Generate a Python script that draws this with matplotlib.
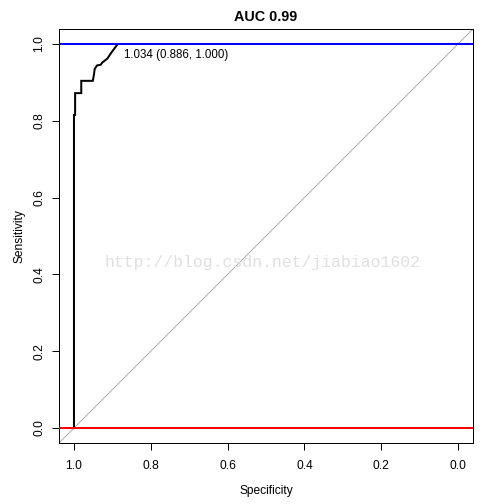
import matplotlib
matplotlib.use("Agg")
import matplotlib.pyplot as plt

# ROC curve data (specificity, sensitivity)
specificity = [1.0, 1.0, 0.997, 0.997, 0.981, 0.981, 0.951, 0.948, 0.946, 0.940,
               0.930, 0.927, 0.918, 0.913, 0.903, 0.886, 0.0]
sensitivity = [0.0, 0.815, 0.815, 0.872, 0.872, 0.904, 0.904, 0.920, 0.935, 0.944,
               0.946, 0.951, 0.958, 0.962, 0.977, 1.0, 1.0]

title = "AUC 0.99"
thres_label = "1.034 (0.886, 1.000)"
thres_point = (0.886, 1.0)
tick_values = [1.0, 0.8, 0.6, 0.4, 0.2, 0.0]
tick_labels = ["1.0", "0.8", "0.6", "0.4", "0.2", "0.0"]
watermark = "http://blog.csdn.net/jiabiao1602"

plt.rcParams['font.family'] = ['Liberation Sans', 'DejaVu Sans']

fig = plt.figure(figsize=(7, 7), dpi=72)
ax = fig.add_axes([58.6 / 504, 1 - 443.4 / 504, 414.8 / 504, 414.8 / 504])

ax.set_xlim(1.04, -0.04)
ax.set_ylim(-0.04, 1.04)

# diagonal
ax.plot([1.04, -0.04], [-0.04, 1.04], color="#A0A0A0", lw=0.8, zorder=1)
# ROC curve
ax.plot(specificity, sensitivity, color="black", lw=2, zorder=3, solid_joinstyle="miter")
# reference lines
ax.axhline(1.0, color="#0000FF", lw=2, zorder=4)
ax.axhline(0.0, color="#FF0000", lw=2, zorder=4)

ax.annotate(thres_label, xy=thres_point, xytext=(6, -11), textcoords="offset points",
            ha="left", va="center", fontsize=11.5, color="black")

ax.set_xticks(tick_values)
ax.set_xticklabels(tick_labels)
ax.set_yticks(tick_values)
ax.set_yticklabels(tick_labels, rotation=90, va="center")
ax.tick_params(direction="out", length=7, width=1, labelsize=12)
ax.tick_params(axis="x", pad=10)
ax.tick_params(axis="y", pad=6)

for s in ax.spines.values():
    s.set_linewidth(1)

ax.set_xlabel("Specificity", fontsize=12, labelpad=13)
ax.set_ylabel("Sensitivity", fontsize=12, labelpad=8)
ax.set_title(title, fontsize=14.4, fontweight="bold", pad=8)

fig.text(262 / 504, 1 - 263 / 504, watermark, family="Liberation Mono", fontsize=16.5,
         color="#e0e0e0", ha="center", va="center", zorder=10)

fig.savefig("out.png", dpi=72, facecolor="white")
